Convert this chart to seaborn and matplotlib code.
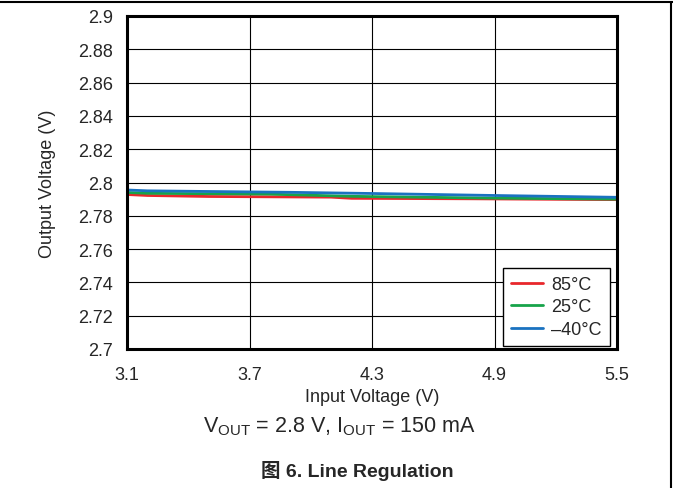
import matplotlib
matplotlib.use("Agg")
import matplotlib.pyplot as plt
import seaborn as sns
import pandas as pd
from matplotlib.lines import Line2D

# Data
vin_85 = [3.1, 3.2, 3.5, 4.1, 4.2, 4.8, 5.5]
vout_85 = [2.7928, 2.7922, 2.7916, 2.7912, 2.7905, 2.7902, 2.7897]
vin_25 = [3.1, 3.2, 3.8, 4.2, 4.9, 5.5]
vout_25 = [2.7940, 2.7935, 2.7930, 2.7917, 2.7906, 2.7900]
vin_m40 = [3.1, 3.2, 3.5, 3.9, 4.3, 4.9, 5.5]
vout_m40 = [2.7955, 2.7950, 2.7946, 2.7941, 2.7934, 2.7922, 2.7911]
labels = ["85°C", "25°C", "\u201340°C"]
colors = ["#e8272b", "#17a34a", "#1a72c0"]

xticks = [3.1, 3.7, 4.3, 4.9, 5.5]
yticks = [2.70, 2.72, 2.74, 2.76, 2.78, 2.80, 2.82, 2.84, 2.86, 2.88, 2.90]
ytick_labels = ["2.7", "2.72", "2.74", "2.76", "2.78", "2.8", "2.82", "2.84", "2.86", "2.88", "2.9"]

sns.set_style("white")
plt.rcParams['font.family'] = ['Liberation Sans', 'Noto Sans CJK SC', 'DejaVu Sans']

frames = []
for x, y, lab in zip([vin_85, vin_25, vin_m40], [vout_85, vout_25, vout_m40], labels):
    frames.append(pd.DataFrame({"vin": x, "vout": y, "temp": lab}))
df = pd.concat(frames, ignore_index=True)

W, H = 673, 489
fig = plt.figure(figsize=(W/100, H/100), dpi=100)
L, R, T, B = 127, 617, 17, 350
ax = fig.add_axes([L/W, 1 - B/H, (R-L)/W, (B-T)/H])

sns.lineplot(data=df, x="vin", y="vout", hue="temp", hue_order=labels,
             palette=colors, linewidth=2, ax=ax, estimator=None, sort=False)

ax.set_xlim(3.1, 5.5)
ax.set_ylim(2.7, 2.9)
ax.set_xticks(xticks)
ax.set_xticklabels([f"{t:.1f}" for t in xticks])
ax.set_yticks(yticks)
ax.set_yticklabels(ytick_labels)
ax.grid(True, color="black", linewidth=0.8)
ax.set_axisbelow(True)
ax.tick_params(axis='both', length=0, labelsize=13)
ax.tick_params(axis='x', pad=12)
ax.tick_params(axis='y', pad=10)
for s in ax.spines.values():
    s.set_color("black")
    s.set_linewidth(2.2)
ax.set_xlabel("Input Voltage (V)", fontsize=13, va="center")
ax.set_ylabel("Output Voltage (V)", fontsize=13, va="center")
ax.xaxis.set_label_coords((372.5 - L)/(R - L), (B - 398)/(B - T))
ax.yaxis.set_label_coords((48 - L)/(R - L), 0.5)

leg = ax.legend(loc="lower right", bbox_to_anchor=((610 - L)/(R - L), (B - 347)/(B - T)),
                fontsize=13, frameon=True, fancybox=False,
                edgecolor="black", framealpha=1, borderaxespad=0,
                handlelength=1.8, handletextpad=0.45, labelspacing=0.3, borderpad=0.45)
leg.get_frame().set_linewidth(1)

fig.text(339/W, 1 - 427/H, r"V$_{\mathregular{OUT}}$ = 2.8 V, I$_{\mathregular{OUT}}$ = 150 mA",
         ha="center", va="center", fontsize=15.5)
fig.text(357/W, 1 - 471/H, "图 6. Line Regulation", ha="center", va="center",
         fontsize=14, fontweight="bold")

fig.add_artist(Line2D([0, 1], [1 - 3/H, 1 - 3/H], color="black", linewidth=1.5,
                      transform=fig.transFigure))
fig.add_artist(Line2D([671/W, 671/W], [0, 1 - 3/H], color="black", linewidth=1.5,
                      transform=fig.transFigure))

fig.savefig("out.png", dpi=100)
